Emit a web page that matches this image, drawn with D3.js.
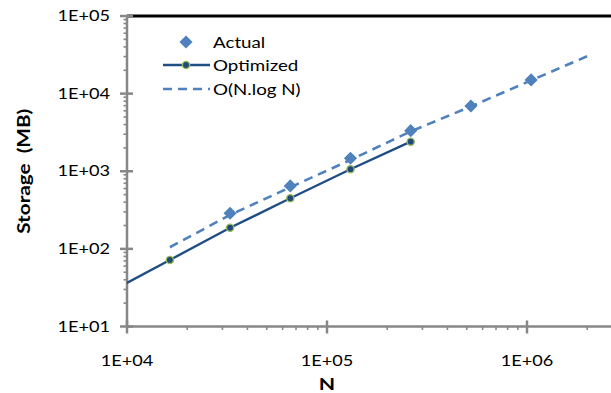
<!DOCTYPE html>
<html>
<head>
<meta charset="utf-8">
<script src="https://cdn.jsdelivr.net/npm/d3@7/dist/d3.min.js"></script>
<style>
  html, body { margin: 0; padding: 0; background: #fff; }
  svg { display: block; }
  text { font-family: Lato, "Open Sans", sans-serif; fill: #000; }
</style>
</head>
<body>
<svg id="chart" width="611" height="393"></svg>
<script>
// ---- data ----
const optimizedN = [8192, 16384, 32768, 65536, 131072, 262144];
const optimizedMB = [27.6, 72, 187, 449, 1062, 2403];
const actualN = [32768, 65536, 131072, 262144, 524288, 1048576];
const actualMB = [288, 647, 1469, 3336, 6934, 15030];
const fitN = [16384, 32768, 65536, 131072, 262144, 524288, 1048576, 2097152];
const fitMB = [105, 274, 622, 1400, 3258, 6840, 14800, 32000];
const xTickLabels = ["1E+04", "1E+05", "1E+06"];
const yTickLabels = ["1E+01", "1E+02", "1E+03", "1E+04", "1E+05"];
const legendLabels = ["Actual", "Optimized", "O(N.log N)"];
const xTitle = "N";
const yTitle = "Storage  (MB)";

// ---- layout ----
const mLeft = 127, mRight = 611, mTop = 16, mBottom = 326.5;
const SX = 1.25; // horizontal text stretch
const axisColor = "#878787";

const svg = d3.select("#chart");

const x = d3.scaleLog().domain([1e4, Math.pow(10, 4 + (mRight - mLeft) / 200)]).range([mLeft, mRight]);
const y = d3.scaleLog().domain([10, 1e5]).range([mBottom, mTop]);

svg.append("defs").append("clipPath").attr("id", "plotclip")
  .append("rect").attr("x", mLeft).attr("y", mTop).attr("width", mRight - mLeft).attr("height", mBottom - mTop);

// top border
svg.append("line").attr("x1", mLeft).attr("x2", mRight).attr("y1", mTop).attr("y2", mTop)
  .attr("stroke", "#000").attr("stroke-width", 3);

function stretchedText(px, py, str, anchor, opts = {}) {
  const g = svg.append("g").attr("transform", `translate(${px},${py}) scale(${opts.sx || SX},1)`);
  return g.append("text").attr("text-anchor", anchor).text(str)
    .attr("font-size", opts.size || 14).attr("font-weight", opts.bold ? "bold" : "normal");
}

// ---- y axis ----
const yMajor = yTickLabels.map(s => +s);
const yMinor = y.ticks().filter(v => !yMajor.some(m => Math.abs(m - v) / m < 1e-6));
svg.append("g").selectAll("line").data(yMinor).join("line")
  .attr("x1", mLeft - 3.5).attr("x2", mLeft).attr("y1", d => y(d)).attr("y2", d => y(d))
  .attr("stroke", axisColor).attr("stroke-width", 1.6);
svg.append("g").selectAll("line").data(yMajor).join("line")
  .attr("x1", mLeft - 7).attr("x2", mLeft + 6).attr("y1", d => y(d)).attr("y2", d => y(d))
  .attr("stroke", axisColor).attr("stroke-width", 2.5);
svg.append("line").attr("x1", mLeft).attr("x2", mLeft).attr("y1", mTop).attr("y2", mBottom + 1)
  .attr("stroke", axisColor).attr("stroke-width", 2.5);
yTickLabels.forEach((lab) => {
  stretchedText(110, y(+lab) + 5, lab, "end", { size: 14.5 });
});

// ---- x axis ----
const xMajor = xTickLabels.map(s => +s);
const xMinor = x.ticks().filter(v => !xMajor.some(m => Math.abs(m - v) / m < 1e-6) && x(v) <= mRight);
svg.append("g").selectAll("line").data(xMinor).join("line")
  .attr("x1", d => x(d)).attr("x2", d => x(d)).attr("y1", mBottom).attr("y2", mBottom + 3.5)
  .attr("stroke", axisColor).attr("stroke-width", 1.6);
svg.append("g").selectAll("line").data(xMajor).join("line")
  .attr("x1", d => x(d)).attr("x2", d => x(d)).attr("y1", mBottom - 6).attr("y2", mBottom + 7)
  .attr("stroke", axisColor).attr("stroke-width", 2.5);
svg.append("line").attr("x1", mLeft - 1).attr("x2", mRight).attr("y1", mBottom).attr("y2", mBottom)
  .attr("stroke", axisColor).attr("stroke-width", 2.5);
xTickLabels.forEach((lab) => {
  stretchedText(x(+lab), 366, lab, "middle", { size: 14.5 });
});

// titles
stretchedText(x(1e5), 390, xTitle, "middle", { size: 17, bold: true });
(function () {
  const g = svg.append("g").attr("transform", `translate(30,${(mTop + mBottom) / 2}) rotate(-90) scale(1.22,1)`);
  g.append("text").attr("text-anchor", "middle").attr("font-size", 17).attr("font-weight", "bold")
    .style("white-space", "pre").text(yTitle);
})();

// ---- series ----
const plot = svg.append("g").attr("clip-path", "url(#plotclip)");
const fitColor = "#4F81BD", optColor = "#1F4E85", mkFill = "#1F497D", mkStroke = "#9BBB59";

const line = d3.line().x(d => x(d[0])).y(d => y(d[1]));

plot.append("path").datum(fitN.map((n, i) => [n, fitMB[i]]))
  .attr("d", line).attr("fill", "none").attr("stroke", fitColor).attr("stroke-width", 2.6)
  .attr("stroke-dasharray", "9,6");

plot.append("path").datum(optimizedN.map((n, i) => [n, optimizedMB[i]]))
  .attr("d", line).attr("fill", "none").attr("stroke", optColor).attr("stroke-width", 2.4);

plot.append("g").selectAll("circle").data(optimizedN.map((n, i) => [n, optimizedMB[i]])).join("circle")
  .attr("cx", d => x(d[0])).attr("cy", d => y(d[1])).attr("r", 3.6)
  .attr("fill", mkFill).attr("stroke", mkStroke).attr("stroke-width", 1.4);

const diamond = d3.symbol().type(d3.symbolDiamond2).size(110);
plot.append("g").selectAll("path").data(actualN.map((n, i) => [n, actualMB[i]])).join("path")
  .attr("d", diamond).attr("transform", d => `translate(${x(d[0])},${y(d[1])})`)
  .attr("fill", fitColor);

// ---- legend ----
const lgX0 = 163, lgX1 = 210, lgMid = 186, lgText = 213;
const lgY = [42, 65, 89];
svg.append("path").attr("d", diamond).attr("transform", `translate(${lgMid},${lgY[0]})`).attr("fill", fitColor);
svg.append("line").attr("x1", lgX0).attr("x2", lgX1).attr("y1", lgY[1]).attr("y2", lgY[1])
  .attr("stroke", optColor).attr("stroke-width", 2.4);
svg.append("circle").attr("cx", lgMid).attr("cy", lgY[1]).attr("r", 3.6)
  .attr("fill", mkFill).attr("stroke", mkStroke).attr("stroke-width", 1.4);
svg.append("line").attr("x1", lgX0).attr("x2", lgX1).attr("y1", lgY[2]).attr("y2", lgY[2])
  .attr("stroke", fitColor).attr("stroke-width", 2.6).attr("stroke-dasharray", "9,6");
legendLabels.forEach((lab, i) => {
  stretchedText(lgText, lgY[i] + 5.5, lab, "start", { size: 15 });
});
</script>
</body>
</html>
